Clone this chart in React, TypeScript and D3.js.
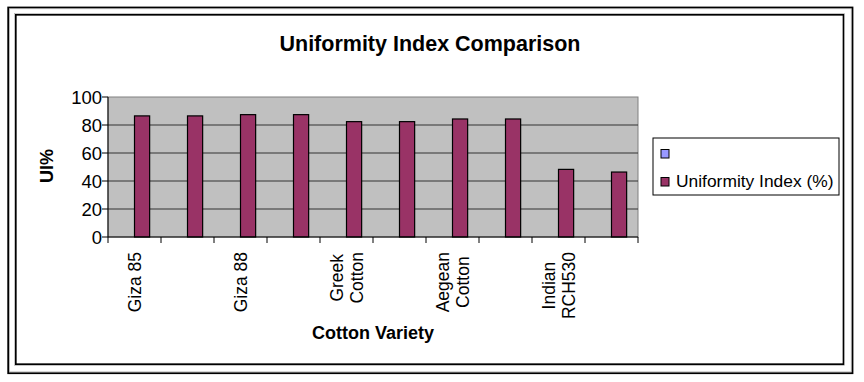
import React from "react";
import * as d3 from "d3";

const categories = ["Giza 85", "", "Giza 88", "", "Greek\nCotton", "", "Aegean\nCotton", "", "Indian\nRCH530", ""];
const uniformityIndex = [86.5, 86.5, 87.4, 87.4, 82.4, 82.4, 84.3, 84.3, 48.3, 46.4];
const seriesNames = ["", "Uniformity Index (%)"];
const seriesColors = ["#9999ff", "#993366"];
const yTicks = [0, 20, 40, 60, 80, 100];

const W = 864;
const H = 382;
const FONT = "Arial, 'Liberation Sans', sans-serif";

function measure(text: string, font: string): number {
  if (typeof document === "undefined") return text.length * 8;
  const c = document.createElement("canvas");
  const ctx = c.getContext("2d");
  if (!ctx) return text.length * 8;
  ctx.font = font;
  return ctx.measureText(text).width;
}

export default function App() {
  const plot = { left: 108, right: 638, top: 97, bottom: 237 };
  const x0 = d3
    .scaleBand<number>()
    .domain(categories.map((_, i) => i))
    .range([plot.left, plot.right])
    .paddingInner(0)
    .paddingOuter(0);
  const x1 = d3
    .scaleBand<string>()
    .domain(seriesNames)
    .range([0, x0.bandwidth()])
    .paddingInner(0)
    .paddingOuter(0.75);
  const y = d3.scaleLinear().domain([0, 100]).range([plot.bottom, plot.top]);

  const tickXs = d3.range(categories.length + 1).map((i) => plot.left + i * x0.step());

  return (
    <svg width={W} height={H} style={{ position: "absolute", left: 0, top: 0 }} fontFamily={FONT}>
      <rect x={0} y={0} width={W} height={H} fill="#fff" />
      {/* frames */}
      <rect x={8.2} y={7.5} width={844.3} height={365.7} fill="none" stroke="#000" strokeWidth={1.8} />
      <rect x={9.5} y={8.8} width={841.7} height={363.1} fill="none" stroke="#999" strokeWidth={0.6} />
      <rect x={15.8} y={14.8} width={827.7} height={349.4} fill="none" stroke="#000" strokeWidth={1.7} />
      <rect x={14.6} y={13.6} width={830.1} height={351.8} fill="none" stroke="#aaa" strokeWidth={0.6} />

      {/* title */}
      <text x={430} y={51} textAnchor="middle" fontWeight="bold" fontSize={21.5}>
        Uniformity Index Comparison
      </text>

      {/* plot area */}
      <rect
        x={plot.left}
        y={plot.top}
        width={plot.right - plot.left}
        height={plot.bottom - plot.top}
        fill="#c0c0c0"
        stroke="#808080"
        strokeWidth={1}
      />
      {yTicks
        .filter((t) => t > 0 && t < 100)
        .map((t) => (
          <line key={t} x1={plot.left} x2={plot.right} y1={y(t)} y2={y(t)} stroke="#333" strokeWidth={1} />
        ))}

      {/* bars */}
      {uniformityIndex.map((v, i) => (
        <rect
          key={i}
          x={(x0(i) as number) + (x1(seriesNames[1]) as number)}
          y={y(v)}
          width={x1.bandwidth()}
          height={y(0) - y(v)}
          fill={seriesColors[1]}
          stroke="#000"
          strokeWidth={1.2}
        />
      ))}

      {/* axes */}
      <line x1={plot.left} x2={plot.left} y1={plot.top} y2={plot.bottom} stroke="#000" strokeWidth={1} />
      <line x1={plot.left} x2={plot.right} y1={plot.bottom} y2={plot.bottom} stroke="#000" strokeWidth={1.2} />
      {yTicks.map((t) => (
        <g key={t}>
          <line x1={plot.left - 6} x2={plot.left} y1={y(t)} y2={y(t)} stroke="#000" />
          <text x={102} y={y(t) + 6.5} textAnchor="end" fontSize={18.5}>
            {t}
          </text>
        </g>
      ))}
      {tickXs.map((tx, i) => (
        <line key={i} x1={tx} x2={tx} y1={plot.bottom} y2={plot.bottom + 6} stroke="#000" />
      ))}

      {/* category labels */}
      {categories.map((c, i) => {
        if (!c) return null;
        const lines = c.split("\n");
        const maxW = Math.max(...lines.map((l) => measure(l, `17.5px ${FONT}`)));
        const cx = (x0(i) as number) + x0.bandwidth() / 2;
        const cy = 252 + maxW / 2;
        return (
          <text key={i} transform={`translate(${cx},${cy}) rotate(-90)`} textAnchor="middle" fontSize={17.5}>
            {lines.map((l, j) => (
              <tspan key={j} x={0} y={(j - (lines.length - 1) / 2) * 20 + 6.2}>
                {l}
              </tspan>
            ))}
          </text>
        );
      })}

      {/* axis titles */}
      <text x={373} y={339} textAnchor="middle" fontWeight="bold" fontSize={18}>
        Cotton Variety
      </text>
      <text transform="translate(53,166) rotate(-90)" textAnchor="middle" fontWeight="bold" fontSize={18}>
        UI%
      </text>

      {/* legend */}
      <rect x={653} y={138} width={186} height={57} fill="#fff" stroke="#000" strokeWidth={1} />
      {seriesNames.map((s, i) => (
        <g key={i}>
          <rect x={661} y={149.5 + i * 28} width={8} height={8.5} fill={seriesColors[i]} stroke="#000" strokeWidth={1} />
          <text x={676} y={159 + i * 28} fontSize={17.4}>
            {s}
          </text>
        </g>
      ))}
    </svg>
  );
}
